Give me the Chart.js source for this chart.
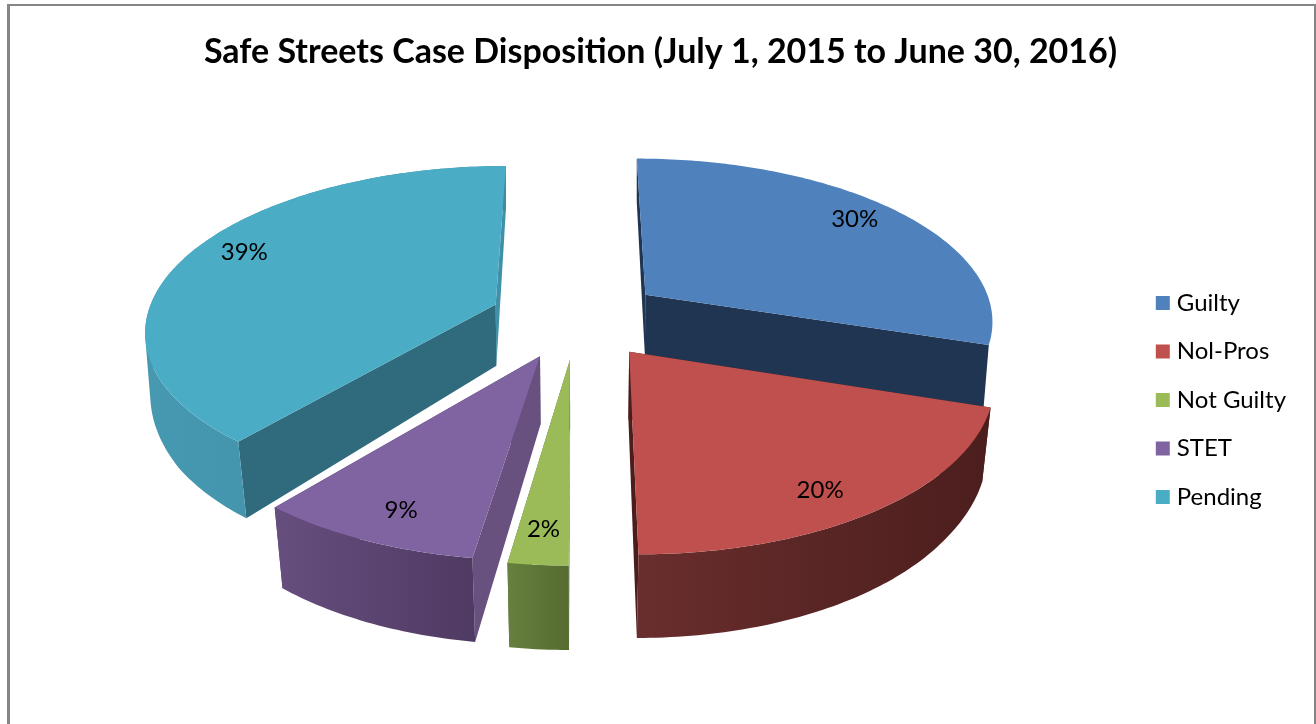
<!DOCTYPE html>
<html lang="en">
<head>
    <meta charset="UTF-8">
    <title>Safe Streets Case Disposition</title>
    <script src="https://cdn.jsdelivr.net/npm/chart.js"></script>
    <style>
        html, body { margin: 0; background: #fff; }
        .frame {
            position: absolute;
            left: 7px; top: 4px; right: 0; bottom: 0;
            border-left: 3px solid #868686;
            border-top: 2px solid #868686;
            border-right: 2px solid #868686;
        }
        .chart-box { position: absolute; left: 0; top: 0; width: 1316px; height: 724px; }
    </style>
</head>
<body>
    <div class="frame"></div>
    <div class="chart-box"><canvas id="caseChart"></canvas></div>

    <script>
        const categories = ['Guilty', 'Nol-Pros', 'Not Guilty', 'STET', 'Pending'];
        // labels only show whole percents, the wedge sizes read a bit finer
        const caseShares = [30, 20, 2.3, 8.7, 39];
        const chartTitle = 'Safe Streets Case Disposition (July 1, 2015 to June 30, 2016)';

        const topColors = ['#4F81BD', '#C0504D', '#9BBB59', '#8064A2', '#4BACC6'];
        const wallLeft = [null, '#692E2D', '#66803F', '#664E7E', '#4699B1'];
        const wallRight = [null, '#4B1E1D', '#566B30', '#4F3A63', '#3E8BA2'];
        const startFace = ['#1F3552', '#4B1E1D', '#566B30', '#68507F', '#306B7D'];
        const endFace = ['#1F3552', '#4B1E1D', '#566B30', '#4F3A63', '#3F90A8'];
        const drawOrder = [0, 4, 3, 2, 1];
        const whiteEdge = [0, 0, 0, 6, 0];
        const labelTurn = [-1.7, 3.4, 0, -1.3, 4.2];

        // camera for the tilted pie, fitted by eye to the original
        const horizonY = -795, pieCx = 576.5, pieSx = 0.3138;
        const nearW = 8.985e-4, tiltW = 1.31e-4;
        const explode = 0.249, labelRadius = 0.85;
        const wallCx = 576;

        function project(u, v, bottom) {
            const dist = 1 / (nearW - tiltW * v);
            let x = pieCx + pieSx * u * dist;
            let y = horizonY + dist;
            if (bottom) {
                // lower rim: pulled inward and down, more so towards the front
                const shrink = Math.min(Math.max(0.012 + 0.00011 * (dist - 1127), 0), 0.026);
                const depth = Math.min(1.055 + 0.00007 * (dist - 1089), 1.062);
                x = wallCx + (x - wallCx) * (1 - shrink);
                y = horizonY + dist * depth;
            }
            return { x, y };
        }

        function rimPoints(arc, bottom) {
            const mid = (arc.startAngle + arc.endAngle) / 2;
            const du = Math.cos(mid) * explode, dv = Math.sin(mid) * explode;
            const steps = Math.ceil((arc.endAngle - arc.startAngle) * 60);
            const pts = [];
            for (let i = 0; i <= steps; i++) {
                const a = arc.startAngle + (arc.endAngle - arc.startAngle) * i / steps;
                pts.push(project(Math.cos(a) + du, Math.sin(a) + dv, bottom));
            }
            return { pts, apex: project(du, dv, bottom) };
        }

        function addPolygon(ctx, pts) {
            pts.forEach((p, i) => i ? ctx.lineTo(p.x, p.y) : ctx.moveTo(p.x, p.y));
            ctx.closePath();
        }

        function fillPath(ctx, pts, fill) {
            ctx.beginPath();
            addPolygon(ctx, pts);
            ctx.fillStyle = fill;
            ctx.fill();
        }

        // same turning direction for every quad, or overlaps cancel out in the fill
        function clockwise(pts) {
            let area = 0;
            pts.forEach((p, i) => {
                const q = pts[(i + 1) % pts.length];
                area += p.x * q.y - q.x * p.y;
            });
            return area < 0 ? pts.slice().reverse() : pts;
        }

        function drawSlice(ctx, arc, i) {
            const top = rimPoints(arc, false);
            const low = rimPoints(arc, true);
            const facePts = [top.apex, ...top.pts];

            if (whiteEdge[i]) {
                ctx.beginPath();
                addPolygon(ctx, facePts);
                ctx.strokeStyle = '#fff';
                ctx.lineWidth = whiteEdge[i];
                ctx.lineJoin = 'round';
                ctx.stroke();
            }

            // cut faces first, the wall and top go over whichever one is hidden
            const last = top.pts.length - 1;
            fillPath(ctx, [top.apex, top.pts[last], low.pts[last], low.apex], endFace[i]);
            fillPath(ctx, [top.apex, top.pts[0], low.pts[0], low.apex], startFace[i]);

            // curved wall: all the quads in one path, so the outline stays closed without seams
            if (wallLeft[i]) {
                const xs = [...top.pts, ...low.pts].map(p => p.x);
                const shade = ctx.createLinearGradient(Math.min(...xs), 0, Math.max(...xs), 0);
                shade.addColorStop(0, wallLeft[i]);
                shade.addColorStop(1, wallRight[i]);
                ctx.beginPath();
                for (let k = 0; k < last; k++) {
                    addPolygon(ctx, clockwise([top.pts[k], top.pts[k + 1], low.pts[k + 1], low.pts[k]]));
                }
                ctx.fillStyle = shade;
                ctx.fill();
            }

            fillPath(ctx, facePts, topColors[i]);
        }

        const tiltedPie = {
            id: 'tiltedPie',
            beforeDatasetDraw() {
                return false;
            },
            afterDatasetsDraw(chart) {
                const ctx = chart.ctx;
                const arcs = chart.getDatasetMeta(0).data;
                const total = caseShares.reduce((a, b) => a + b, 0);
                ctx.save();
                drawOrder.forEach(i => drawSlice(ctx, arcs[i], i));

                ctx.fillStyle = '#000';
                ctx.font = '24px Lato';
                ctx.textAlign = 'center';
                ctx.textBaseline = 'middle';
                arcs.forEach((arc, i) => {
                    const mid = (arc.startAngle + arc.endAngle) / 2;
                    const turned = mid + labelTurn[i] * Math.PI / 180;
                    const p = project(Math.cos(mid) * explode + Math.cos(turned) * labelRadius,
                        Math.sin(mid) * explode + Math.sin(turned) * labelRadius, false);
                    ctx.fillText(Math.round(caseShares[i] / total * 100) + '%', p.x, p.y);
                });
                ctx.restore();
            }
        };

        new Chart(document.getElementById('caseChart'), {
            type: 'pie',
            data: {
                labels: categories,
                datasets: [{
                    data: caseShares,
                    backgroundColor: topColors,
                    borderColor: topColors,
                    // small box + thick border gives the 14px swatch with text close to it
                    borderWidth: 10
                }]
            },
            options: {
                responsive: true,
                maintainAspectRatio: false,
                animation: false,
                layout: { padding: { left: 25, right: 20, top: 0, bottom: 0 } },
                plugins: {
                    title: {
                        display: true,
                        text: chartTitle,
                        color: '#000',
                        font: { family: 'Lato', size: 34, weight: 'bold' },
                        padding: { top: 32, bottom: 3 }
                    },
                    legend: {
                        position: 'right',
                        fullSize: false,
                        labels: {
                            color: '#000',
                            font: { family: 'Lato', size: 24 },
                            boxWidth: 4,
                            boxHeight: 4,
                            padding: 24.5
                        }
                    },
                    tooltip: { enabled: false }
                }
            },
            plugins: [tiltedPie]
        });
    </script>
</body>
</html>
